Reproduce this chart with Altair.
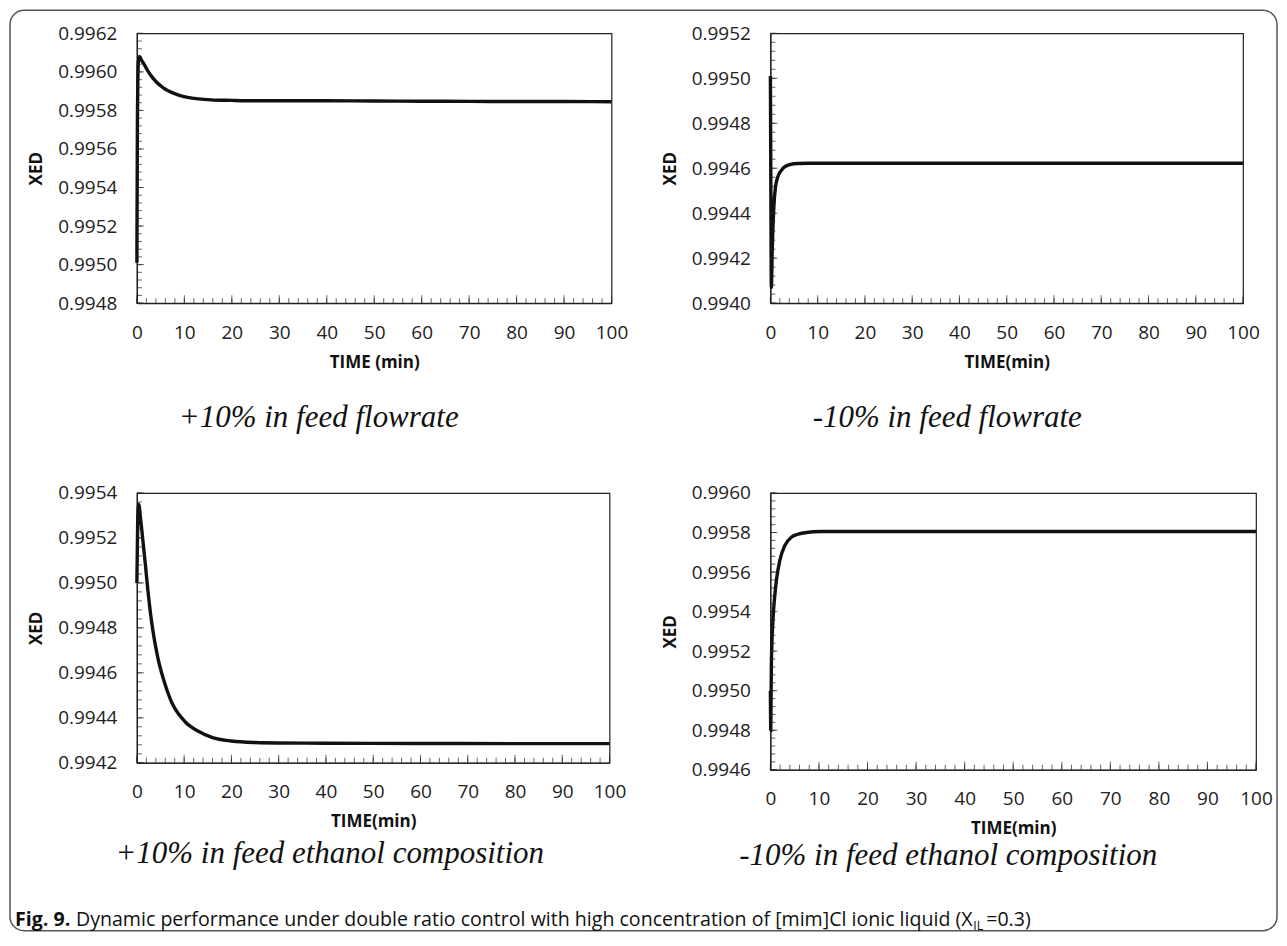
import altair as alt
import pandas as pd

# ---------------- data ----------------
# +10% in feed flowrate
t1 = [0, 0.1, 0.3, 0.5, 1.0, 1.5, 2.3, 3.3, 4.2, 5.0, 6.0, 7.2, 8.8, 10.7, 13, 15.6,
      20, 25, 30, 40, 50, 60, 70, 80, 90, 100]
v1 = [0.99501, 0.99570, 0.99605, 0.99608, 0.99606, 0.99604, 0.996005, 0.99597, 0.995945,
      0.995928, 0.99591, 0.995895, 0.99588, 0.995868, 0.99586, 0.995855, 0.995852, 0.99585,
      0.99585, 0.99585, 0.995849, 0.995848, 0.995847, 0.995846, 0.995846, 0.995845]

# -10% in feed flowrate
t2 = [0, 0.1, 0.2, 0.4, 0.72, 1.06, 1.4, 1.78, 2.3, 2.83, 3.9, 5, 6, 8, 10, 20, 40, 60, 80, 100]
v2 = [0.99501, 0.99450, 0.99407, 0.99425, 0.994425, 0.994514, 0.99455, 0.994573, 0.99459,
      0.994603, 0.994615, 0.99462, 0.994621, 0.994622, 0.994622, 0.994622, 0.994622,
      0.994622, 0.994622, 0.994622]

# +10% in feed ethanol composition
t3 = [0, 0.15, 0.36, 0.8, 1.27, 1.8, 2.33, 3.38, 4.4, 5.5, 6.5, 7.6, 9, 10.4, 13, 16,
      20, 25, 30, 40, 60, 80, 100]
v3 = [0.99500, 0.99525, 0.99535, 0.99528, 0.995188, 0.99508, 0.994966, 0.994788, 0.99467,
      0.99458, 0.994515, 0.994458, 0.994412, 0.994378, 0.99434, 0.994312, 0.994297, 0.99429,
      0.994288, 0.994287, 0.994286, 0.994285, 0.994285]

# -10% in feed ethanol composition
t4 = [0, 0.08, 0.2, 0.56, 0.9, 1.23, 1.93, 2.96, 4.3, 5.5, 7.1, 10.5, 20, 40, 60, 80, 100]
v4 = [0.99500, 0.99480, 0.995136, 0.995372, 0.99548, 0.995557, 0.995658, 0.995734,
      0.995776, 0.99579, 0.995799, 0.995805, 0.995805, 0.995805, 0.995805, 0.995805, 0.995805]

captions = ["+10% in feed flowrate", "-10% in feed flowrate",
            "+10% in feed ethanol composition", "-10% in feed ethanol composition"]
xtitles = ["TIME (min)", "TIME(min)", "TIME(min)", "TIME(min)"]
ydomains = [(0.9948, 0.9962), (0.9940, 0.9952), (0.9942, 0.9954), (0.9946, 0.9960)]

fig_bold = "Fig. 9."
fig_text = "Dynamic performance under double ratio control with high concentration of [mim]Cl ionic liquid (X"
fig_sub = "IL"
fig_end = " =0.3)"

FONT = "Open Sans"
INK = "#111111"
AX = "#222222"


def panel(t, v, ydom, w, h, xtitle, caption, cap_x, cap_y, extra=None):
    df = pd.DataFrame({"t": t, "v": v})
    ymin, ymax = ydom
    n = int(round((ymax - ymin) / 0.00004))
    yminor = [round(ymin + i * 0.00004, 6) for i in range(n + 1)]
    ymajor = [round(ymin + i * 0.0002, 6) for i in range(int(round((ymax - ymin) / 0.0002)) + 1)]
    xminor = list(range(0, 101, 2))
    xmajor = list(range(0, 101, 10))
    xscale = alt.Scale(domain=[0, 100], nice=False)
    yscale = alt.Scale(domain=[ymin, ymax], nice=False, zero=False)
    xaxis = alt.Axis(values=xmajor, title=xtitle, format="d",
                     labelOverlap=False, labelFlush=False, grid=False,
                     tickSize=0, labelPadding=20, titlePadding=12)
    yaxis = alt.Axis(values=ymajor, title="XED", format=".4f",
                     labelOverlap=False, labelFlush=False, grid=False,
                     tickSize=0, labelPadding=20, titlePadding=12)
    line = alt.Chart(df).mark_line(color=INK, strokeWidth=3.4, interpolate="monotone").encode(
        x=alt.X("t:Q", scale=xscale, axis=xaxis),
        y=alt.Y("v:Q", scale=yscale, axis=yaxis),
    )
    ytk_min = alt.Chart(pd.DataFrame({"y": yminor})).mark_tick(
        orient="horizontal", size=5, thickness=1, color=AX
    ).encode(y=alt.Y("y:Q", scale=yscale, axis=yaxis), x=alt.value(2.5))
    ytk_maj = alt.Chart(pd.DataFrame({"y": ymajor})).mark_tick(
        orient="horizontal", size=7, thickness=1, color=AX
    ).encode(y=alt.Y("y:Q", scale=yscale, axis=yaxis), x=alt.value(3.5))
    xtk_min = alt.Chart(pd.DataFrame({"x": xminor})).mark_tick(
        orient="vertical", size=5, thickness=1, color=AX
    ).encode(x=alt.X("x:Q", scale=xscale, axis=xaxis), y=alt.value(h - 2.5))
    xtk_maj = alt.Chart(pd.DataFrame({"x": xmajor})).mark_tick(
        orient="vertical", size=8, thickness=1, color=AX
    ).encode(x=alt.X("x:Q", scale=xscale, axis=xaxis), y=alt.value(h - 4))
    cap = alt.Chart(pd.DataFrame({"txt": [caption]})).mark_text(
        font="Liberation Serif", fontStyle="italic", fontSize=31, align="center",
        baseline="alphabetic", color=INK
    ).encode(x=alt.value(cap_x), y=alt.value(cap_y), text="txt:N")
    layers = [line, ytk_min, ytk_maj, xtk_min, xtk_maj, cap]
    if extra:
        layers += extra
    return alt.layer(*layers).properties(width=w, height=h)


one = pd.DataFrame({"a": [0]})
frame = alt.Chart(one).mark_rect(fillOpacity=0, stroke="#555555", strokeWidth=1.5,
                                 cornerRadius=14).encode(
    x=alt.value(-127), x2=alt.value(1141), y=alt.value(-23), y2=alt.value(898))
FIG_Y = 893
FIG_FS = 19.6
figb = alt.Chart(pd.DataFrame({"txt": [fig_bold]})).mark_text(
    font=FONT, fontWeight="bold", fontSize=FIG_FS, align="left", baseline="alphabetic", color=INK
).encode(x=alt.value(-122), y=alt.value(FIG_Y), text="txt:N")
figt = alt.Chart(pd.DataFrame({"txt": [fig_text]})).mark_text(
    font=FONT, fontSize=FIG_FS, align="left", baseline="alphabetic", color=INK
).encode(x=alt.value(-61), y=alt.value(FIG_Y), text="txt:N")
figs = alt.Chart(pd.DataFrame({"txt": [fig_sub]})).mark_text(
    font=FONT, fontSize=12.5, align="left", baseline="alphabetic", color=INK
).encode(x=alt.value(837), y=alt.value(FIG_Y + 4), text="txt:N")
fige = alt.Chart(pd.DataFrame({"txt": [fig_end]})).mark_text(
    font=FONT, fontSize=FIG_FS, align="left", baseline="alphabetic", color=INK
).encode(x=alt.value(850), y=alt.value(FIG_Y), text="txt:N")

p1 = panel(t1, v1, ydomains[0], 475, 270, xtitles[0], captions[0], 182, 394,
           extra=[frame, figb, figt, figs, fige])
p2 = panel(t2, v2, ydomains[1], 473, 270, xtitles[1], captions[1], 177, 394)
p3 = panel(t3, v3, ydomains[2], 473, 270, xtitles[2], captions[2], 193, 370)
p4 = panel(t4, v4, ydomains[3], 486, 277, xtitles[3], captions[3], 178, 372)

chart = alt.concat(p1, p2, p3, p4, columns=2, spacing={"row": 190, "column": 159},
                   bounds="flush").properties(
    padding=0, background="white"
).configure_view(stroke=AX, strokeWidth=1.2).configure_axis(
    domainColor=AX, domainWidth=1.2,
    labelFont=FONT, labelFontSize=19, labelColor=AX,
    titleFont=FONT, titleFontSize=17, titleFontWeight="bold", titleColor=INK,
)

chart.save("out.html", embed_options={"renderer": "svg", "actions": False})
